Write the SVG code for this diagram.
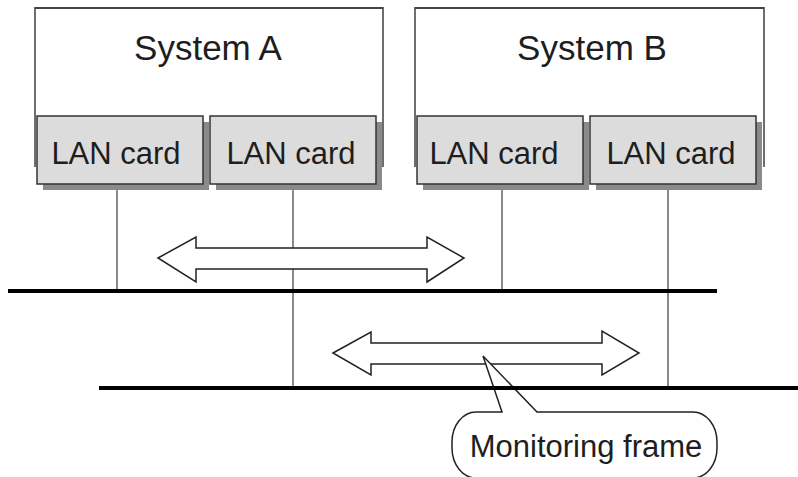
<svg xmlns="http://www.w3.org/2000/svg" width="798" height="477" viewBox="0 0 798 477">
<style>
.sys{fill:none;stroke:#6e6e6e;stroke-width:2}
.sys-top{stroke:#444;stroke-width:2}
.shadow{fill:#8a8a8a}
.card{fill:#dcdcdc;stroke:#333;stroke-width:1.5}
.t{font-family:"Liberation Sans",Arial,sans-serif;fill:#1e1e1e;text-anchor:middle}
.drop{stroke:#8a8a8a;stroke-width:2;fill:none}
.bus{stroke:#000;stroke-width:4}
.arrow{fill:#fff;stroke:#222;stroke-width:1.5;stroke-linejoin:miter}
</style>
<rect width="798" height="477" fill="#fff"/>
<g id="systemA">
<path class="sys" d="M35,167 V8 H383 V167"/>
<line class="sys-top" x1="35" y1="8" x2="383" y2="8"/>
<text class="t" x="208" y="60" font-size="35">System A</text>
</g>
<g id="systemB">
<path class="sys" d="M415,167 V8 H764 V167"/>
<line class="sys-top" x1="415" y1="8" x2="764" y2="8"/>
<text class="t" x="592" y="60" font-size="35">System B</text>
</g>
<g id="cardA1">
<rect class="shadow" x="43" y="122" width="166" height="68"/>
<rect class="card" x="37" y="116" width="166" height="68"/>
<text class="t" x="116" y="164" font-size="31">LAN card</text>
</g>
<g id="cardA2">
<rect class="shadow" x="216" y="122" width="166" height="68"/>
<rect class="card" x="210" y="116" width="166" height="68"/>
<text class="t" x="291" y="164" font-size="31">LAN card</text>
</g>
<g id="cardB1">
<rect class="shadow" x="423" y="122" width="166" height="68"/>
<rect class="card" x="417" y="116" width="166" height="68"/>
<text class="t" x="494" y="164" font-size="31">LAN card</text>
</g>
<g id="cardB2">
<rect class="shadow" x="596" y="122" width="166" height="68"/>
<rect class="card" x="590" y="116" width="166" height="68"/>
<text class="t" x="671" y="164" font-size="31">LAN card</text>
</g>
<g id="connectors">
<line class="drop" x1="117" y1="190" x2="117" y2="291"/>
<line class="drop" x1="293" y1="190" x2="293" y2="388"/>
<line class="drop" x1="502" y1="190" x2="502" y2="291"/>
<line class="drop" x1="668" y1="190" x2="668" y2="388"/>
<polygon class="arrow" points="158,258 196,237 196,248 427,248 427,237 464,258 427,282 427,269 196,269 196,282"/>
<polygon class="arrow" points="333,353 371,332 371,343 602,343 602,331 639,353 602,375 602,364 371,364 371,375"/>
</g>
<g id="callout">
<path d="M502,412 L483,356 L537,412 H693 A24 30 0 0 1 717 442 V448 A24 30 0 0 1 693 478 H476 A24 30 0 0 1 452 448 V442 A24 30 0 0 1 476 412 Z" fill="#fff" stroke="#222" stroke-width="1.5" stroke-linejoin="miter"/>
<text class="t" x="586" y="457" font-size="31">Monitoring frame</text>
</g>
<g id="buses">
<line class="bus" x1="8" y1="291" x2="717" y2="291"/>
<line class="bus" x1="99" y1="388" x2="798" y2="388"/>
</g>
</svg>
